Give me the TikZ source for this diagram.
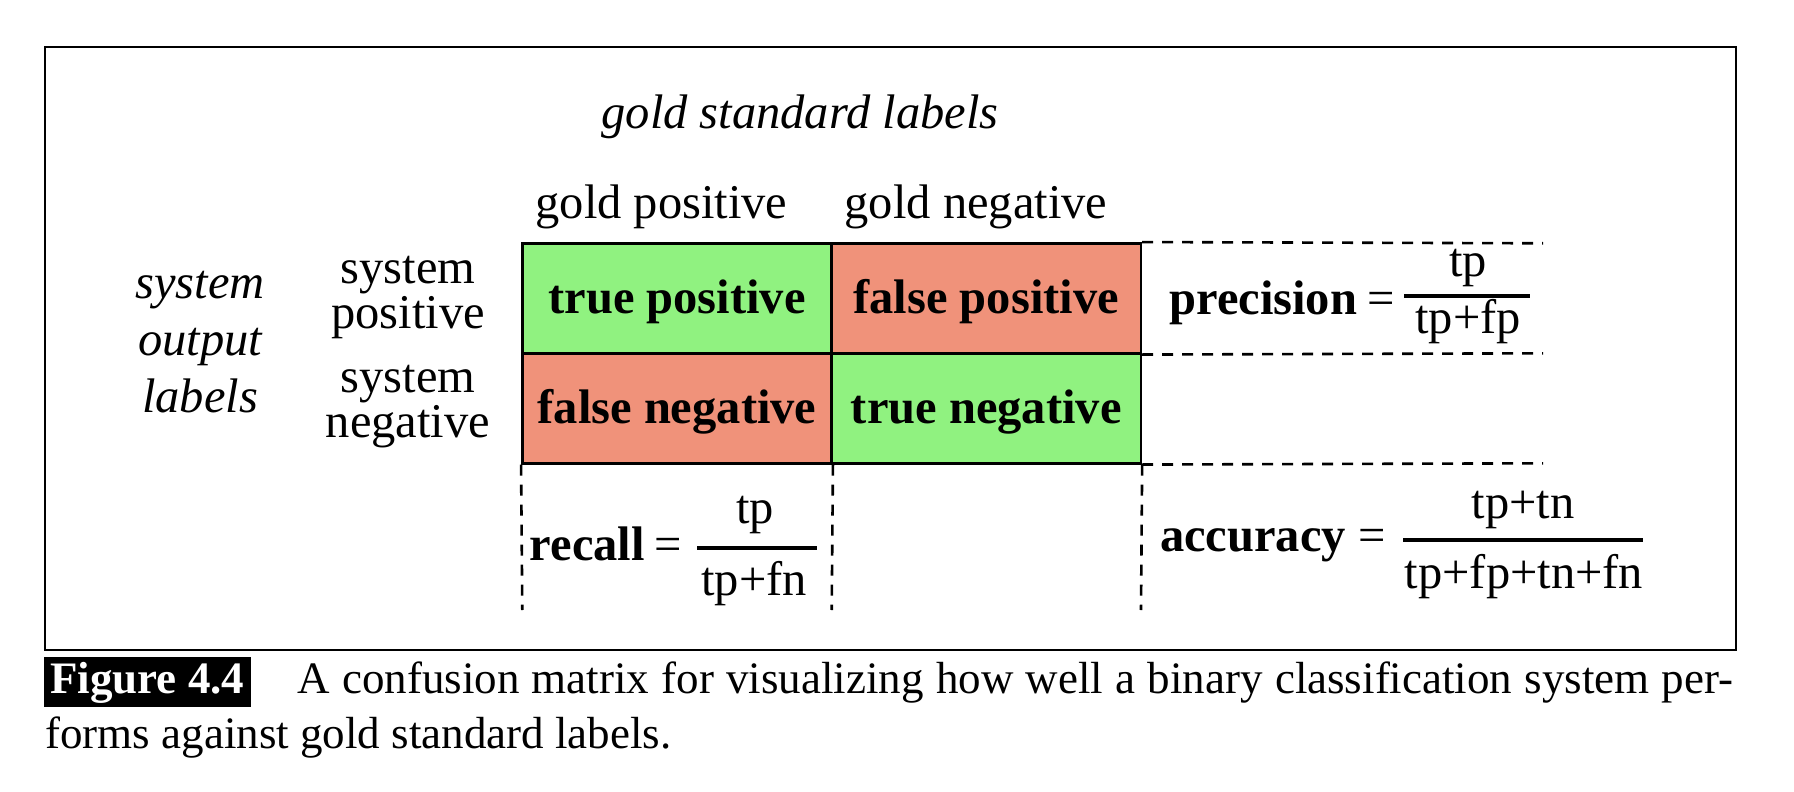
\documentclass[tikz,border=0pt]{standalone}
\usepackage{fontspec}
\setmainfont{Liberation Serif}
\definecolor{cellgreen}{RGB}{144,242,128}
\definecolor{cellred}{RGB}{240,146,122}
\begin{document}
\begin{tikzpicture}[x=0.5pt,y=-0.5pt,
  txt/.style={inner sep=0pt, font=\fontsize{24.25}{29}\selectfont},
  itxt/.style={inner sep=0pt, font=\fontsize{24.25}{28.5}\selectfont\itshape},
  twoline/.style={inner sep=0pt, align=center, font=\fontsize{24.25}{22.5}\selectfont},
  cellbox/.style={draw, line width=1.25pt, minimum width=154.7pt, minimum height=55pt,
    inner sep=0pt, text height=15pt, text depth=0pt,
    font=\fontsize{24.25}{29}\selectfont\bfseries},
  dashline/.style={line width=1.3pt, dash pattern=on 5.5pt off 4.5pt},
  fracbar/.style={line width=2.4pt},
  capt/.style={inner sep=0pt, font=\fontsize{22.5}{27}\selectfont},
  frame/.style={line width=1pt}
]
\path[use as bounding box, fill=white] (0,0) rectangle (1794,792);

% outer frame
\draw[frame] (45,47) rectangle (1736,650);

% headers
\node[itxt, anchor=base] (gsl) at (800,128) {gold standard labels};
\node[txt, anchor=base] (gp) at (661.5,218) {gold positive};
\node[txt, anchor=base] (gn) at (976,218) {gold negative};

\node[itxt, align=center, anchor=base] (sol) at (200,412) {system\\output\\labels};
\node[twoline, anchor=base] (sp) at (408,328) {system\\positive};
\node[twoline, anchor=base] (sn) at (408,437) {system\\negative};

% matrix cells
\node[cellbox, fill=cellgreen] (tp) at (677,298.3) {true positive};
\node[cellbox, fill=cellred]   (fp) at (986.2,298.3) {false positive};
\node[cellbox, fill=cellred]   (fn) at (677,408.3) {false negative};
\node[cellbox, fill=cellgreen] (tn) at (986.2,408.3) {true negative};

% dashed guide lines
\coordinate (h1) at (1543,243.3);
\coordinate (h2) at (1543,353.3);
\coordinate (h3) at (1543,463.3);
\coordinate (v1) at (522.3,610);
\coordinate (v2) at (831.7,610);
\coordinate (v3) at (1141,610);
\draw[dashline] (fp.north east) -- (h1);
\draw[dashline] (fp.south east) -- (h2);
\draw[dashline] (tn.south east) -- (h3);
\draw[dashline] (fn.south west) -- (v1);
\draw[dashline] (fn.south east) -- (v2);
\draw[dashline] (tn.south east) -- (v3);

% precision
\node[txt, anchor=base west] (prec) at (1169,314) {\textbf{precision}};
\node[txt, anchor=base] (preceq) at (1381,314) {=};
\node[txt, anchor=base] (precnum) at (1468,276) {tp};
\node[txt, anchor=base] (precden) at (1468,333) {tp+fp};
\draw[fracbar] (1404,296) -- (1530,296);

% recall
\node[txt, anchor=base west] (rec) at (529.5,560) {\textbf{recall}};
\node[txt, anchor=base] (receq) at (667.7,560) {=};
\node[txt, anchor=base] (recnum) at (755,523) {tp};
\node[txt, anchor=base] (recden) at (754,595) {tp+fn};
\draw[fracbar] (697,548) -- (817,548);

% accuracy
\node[txt, anchor=base west] (acc) at (1159.7,551.7) {\textbf{accuracy}};
\node[txt, anchor=base] (acceq) at (1372,551.7) {=};
\node[txt, anchor=base] (accnum) at (1523,518) {tp+tn};
\node[txt, anchor=base] (accden) at (1524,588) {tp+fp+tn+fn};
\draw[fracbar] (1403,540) -- (1643,540);

% caption
\node[fill=black, text=white, inner sep=0pt, minimum width=103.35pt, minimum height=25pt,
      text height=11pt, text depth=0pt, font=\fontsize{22.5}{27}\selectfont\bfseries]
      (figlbl) at (147.35,682.3) {Figure 4.4};
\node[capt, anchor=base west] (cap1) at (297,693.3)
  {\makebox[718pt][s]{A confusion matrix for visualizing how well a binary classification system per-}};
\node[capt, anchor=base west] (cap2) at (45,748.3) {forms against gold standard labels.};
\end{tikzpicture}
\end{document}
